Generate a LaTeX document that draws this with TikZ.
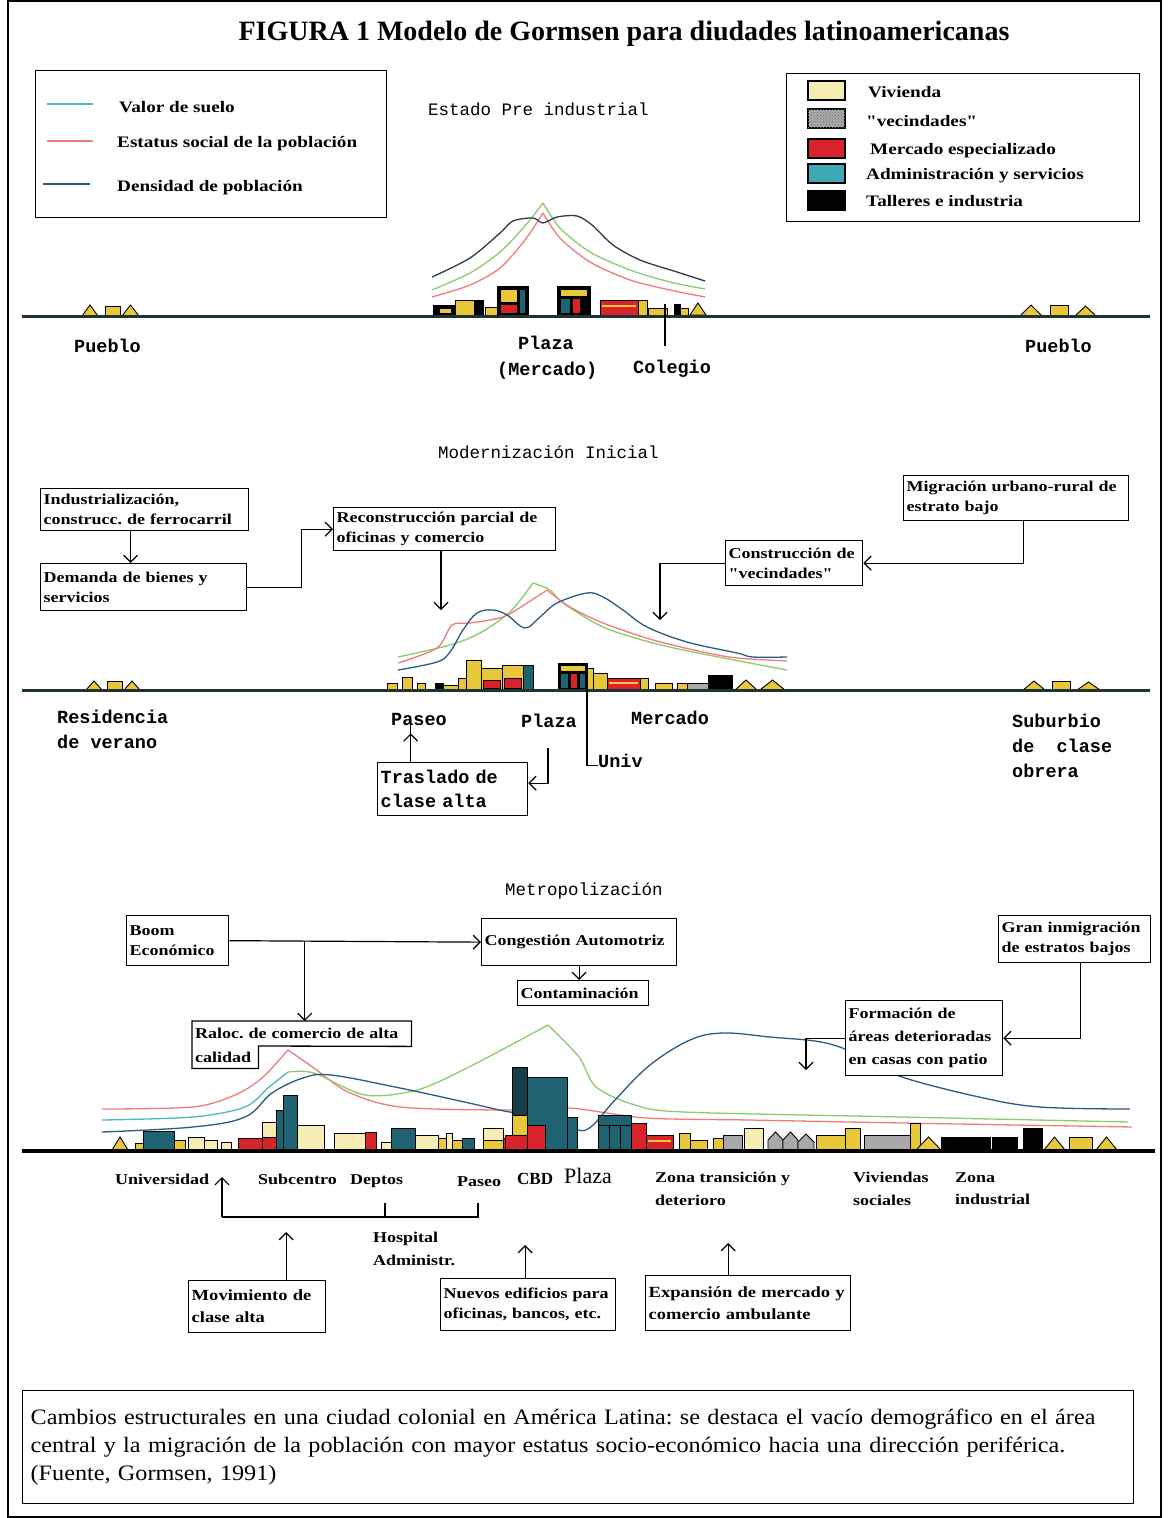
\documentclass[tikz,border=0pt]{standalone}
\usepackage{fontspec}
\setmainfont{Liberation Serif}
\newfontfamily\lmono{Liberation Mono}
\newfontfamily\bxf[FakeStretch=1.2]{Liberation Serif}
\newfontfamily\capf[FakeStretch=1.1]{Liberation Serif}
\usetikzlibrary{arrows.meta,patterns}
\frenchspacing
\definecolor{cY}{HTML}{E9C73A}
\definecolor{cCr}{HTML}{F6EDB5}
\definecolor{cR}{HTML}{D8232A}
\definecolor{cT}{HTML}{1F6373}
\definecolor{cTd}{HTML}{163F4A}
\definecolor{cTl}{HTML}{3FA9B5}
\definecolor{cGy}{HTML}{A9A9A9}
\definecolor{lG}{HTML}{8CCB6E}
\definecolor{lR}{HTML}{F07B7B}
\definecolor{lB}{HTML}{2F5A80}
\definecolor{lD}{HTML}{2E3A4A}
\definecolor{lC}{HTML}{4FB8B8}
\definecolor{gnd}{HTML}{1E3434}
\newcommand{\groundY}{315}
\newcommand{\Bk}[4]{\filldraw[bd,fill=#4] (#1,\groundY) rectangle (#2,#3);}
\newcommand{\Fl}[5]{\filldraw[bd,fill=#5] (#1,#2) rectangle (#3,#4);}
\newcommand{\Tri}[3]{\filldraw[bd,fill=cY] (#1,\groundY) -- ({(#1+#2)/2},#3) -- (#2,\groundY) -- cycle;}
\newcommand{\Hse}[3]{\filldraw[bd,fill=cGy] (#1,\groundY) -- (#1,#3+8) -- ({(#1+#2)/2},#3) -- (#2,#3+8) -- (#2,\groundY) -- cycle;}
\newcommand{\dq}{\symbol{34}}
\tikzset{
  bd/.style={draw=black, line width=0.9pt},
  tb/.style={draw, fill=white, line width=1.3pt, inner xsep=3pt, inner ysep=2pt, align=left, anchor=north west, font=\bxf\fontsize{15}{20}\selectfont\bfseries},
  arr/.style={-{Straight Barb[length=7pt,width=14pt]}, line width=1.2pt},
  ln/.style={line width=1.2pt},
  crv/.style={line width=1.3pt},
  mlab/.style={font=\lmono\fontsize{18.5}{25}\selectfont\bfseries, anchor=base west, inner sep=0pt},
  hlab/.style={font=\lmono\fontsize{17.5}{22}\selectfont, anchor=base west, inner sep=0pt},
  slab/.style={font=\bxf\fontsize{15}{22.5}\selectfont\bfseries, anchor=north west, align=left, inner sep=0pt},
  leg/.style={font=\bxf\fontsize{16}{18}\selectfont\bfseries, anchor=base west, inner sep=0pt},
}
\begin{document}
\begin{tikzpicture}[x=1pt,y=-1pt]
\useasboundingbox (0,0) rectangle (1169,1518);
\fill[white] (0,0) rectangle (1169,1518);
\draw[line width=1.5pt] (8,1) rectangle (1161,1517);

\node[font=\fontsize{28}{32}\selectfont\bfseries] (title) at (624,34) {FIGURA 1 Modelo de Gormsen para diudades latinoamericanas};

% ---------- left legend
\node[draw, line width=1.3pt, minimum width=351pt, minimum height=147pt, anchor=north west] (legL) at (35,70) {};
\draw[lC, line width=1.6pt] (47,104) -- (93,104);
\draw[lR, line width=1.4pt] (47,141) -- (93,141);
\draw[lB, line width=2pt] (43,184) -- (90,184);
\node[leg] (lv) at (119,112) {Valor de suelo};
\node[leg] (le) at (117,147) {Estatus social de la población};
\node[leg] (ld) at (117,191) {Densidad de población};

% ---------- right legend
\node[draw, line width=1.3pt, minimum width=353pt, minimum height=148pt, anchor=north west] (legR) at (786,73) {};
\filldraw[bd,line width=1.3pt,fill=cCr] (808,81) rectangle (845,100);
\filldraw[bd,line width=1.3pt,fill=cGy,postaction={pattern=crosshatch dots, pattern color=black!55}] (808,109) rectangle (845,128);
\filldraw[bd,line width=1.3pt,fill=cR] (808,139) rectangle (845,158);
\filldraw[bd,line width=1.3pt,fill=cTl] (808,164) rectangle (845,183);
\filldraw[bd,line width=1.3pt,fill=black] (808,191) rectangle (845,210);
\node[leg] (r1) at (868,97) {Vivienda};
\node[leg] (r2) at (866,126) {\dq vecindades\dq};
\node[leg] (r3) at (870,154) {Mercado especializado};
\node[leg] (r4) at (866,179) {Administración y servicios};
\node[leg] (r5) at (866,206) {Talleres e industria};

% ================= SECTION 1
\node[hlab] (h1) at (428,115) {Estado Pre industrial};
\draw[crv,lG] plot[smooth] coordinates {(432,290) (470,273) (500,252) (525,226) (543,203)};
\draw[crv,lG] plot[smooth] coordinates {(543,203) (560,228) (590,252) (630,270) (670,282) (705,289)};
\draw[crv,lR] plot[smooth] coordinates {(432,297) (470,285) (500,268) (525,240) (543,213)};
\draw[crv,lR] plot[smooth] coordinates {(543,213) (560,238) (590,262) (630,280) (670,290) (705,297)};
\draw[crv,lD] plot[smooth] coordinates {(432,277) (470,258) (500,233) (513,221) (533,218) (543,223) (557,217) (577,216) (592,225) (613,245) (640,260) (677,272) (705,281)};
\renewcommand{\groundY}{315}
\Bk{433}{455}{305}{black} \Fl{439}{308}{451}{313}{cY}
\Bk{455}{483}{300}{cY} \Fl{474}{300}{483}{315}{black}
\Bk{485}{497}{307}{cY}
\Bk{497}{528}{286}{black} \Fl{500}{289}{517}{302}{cY} \Fl{500}{304}{517}{313}{cR} \Fl{519}{289}{525}{313}{cT}
\Bk{557}{590}{286}{black} \Fl{560}{289}{587}{296}{cY} \Fl{560}{298}{570}{313}{cT} \Fl{572}{298}{580}{313}{cR}
\Bk{600}{638}{300}{cR} \draw[cY,line width=1.5pt] (602,306)--(636,306);
\Bk{638}{647}{300}{cY}
\Bk{648}{667}{308}{cY}
\Bk{674}{680}{304}{black}
\Bk{680}{688}{308}{cY}
\Tri{690}{706}{303}
\renewcommand{\groundY}{316}
\Tri{82}{98}{305} \Bk{105}{120}{306}{cY} \Tri{122}{139}{305}
\Tri{1020}{1042}{305} \Bk{1050}{1068}{305}{cY} \Tri{1075}{1096}{306}
\draw[gnd, line width=3pt] (22,316) -- (1150,316);
\coordinate (colA) at (665,304);
\coordinate (colB) at (665,346);
\draw[ln] (colA) -- (colB);
\node[mlab] (pu1) at (74,352) {Pueblo};
\node[mlab] (pu2) at (1025,352) {Pueblo};
\node[mlab] (pl1) at (518,349) {Plaza};
\node[mlab] (me1) at (497,375) {(Mercado)};
\node[mlab] (co1) at (633,373) {Colegio};

% ================= SECTION 2
\node[hlab] (h2) at (438,458) {Modernización Inicial};
\draw[crv,lG] plot[smooth] coordinates {(398,657) (450,645) (480,633) (510,612) (533,583)};
\draw[crv,lG] plot[smooth] coordinates {(533,583) (550,590) (563,603) (603,627) (653,643) (703,654) (787,670)};
\draw[crv,lR] plot[smooth, tension=0.5] coordinates {(398,663) (437,648) (452,625) (470,623) (503,617) (527,603) (547,590)};
\draw[crv,lR] plot[smooth] coordinates {(547,590) (570,607) (603,623) (653,640) (703,652) (737,658) (787,661)};
\draw[crv,lB] plot[smooth, tension=0.6] coordinates {(398,670) (437,662) (450,652) (463,630) (477,613) (493,610) (507,615) (525,628) (540,617) (557,603) (587,593) (603,597) (623,610) (647,627) (687,642) (737,653) (753,657) (787,657)};
\renewcommand{\groundY}{690}
\Bk{387}{397}{683}{cY}
\Bk{402}{412}{677}{cY}
\Bk{417}{425}{683}{cY}
\Bk{435}{443}{683}{black}
\Bk{443}{458}{685}{cY}
\Bk{458}{466}{678}{cY}
\Bk{466}{481}{660}{cY}
\Bk{481}{502}{668}{cY} \Fl{483}{680}{500}{688}{cR}
\Bk{502}{523}{665}{cY} \Fl{504}{678}{521}{688}{cR}
\Bk{523}{533}{665}{cT}
\Bk{558}{587}{663}{black} \Fl{560}{665}{585}{671}{cY} \Fl{560}{673}{568}{688}{cT} \Fl{570}{673}{577}{688}{cR} \Fl{579}{673}{585}{688}{cT}
\Bk{587}{593}{668}{cY}
\Bk{593}{607}{673}{cY}
\Bk{607}{640}{678}{cR} \draw[cY, line width=1.5pt] (609,683)--(638,683);
\Bk{640}{648}{678}{cY}
\Bk{655}{672}{683}{cY}
\Bk{677}{687}{683}{cY}
\Bk{687}{708}{683}{cGy}
\Bk{708}{732}{675}{black}
\Tri{735}{757}{680} \Tri{760}{785}{680}
\Tri{86}{102}{681} \Bk{107}{122}{681}{cY} \Tri{124}{140}{681}
\Tri{1023}{1045}{681} \Bk{1052}{1070}{681}{cY} \Tri{1077}{1100}{682}
\draw[gnd, line width=3pt] (22,690) -- (1150,690);
\node[tb, text width=202pt, minimum height=42pt] (ind) at (40,488) {Industrialización,\\construcc. de ferrocarril};
\node[tb, text width=200pt, minimum height=47pt] (dem) at (40,563) {Demanda de bienes y\\servicios};
\node[tb, text width=216pt, minimum height=43pt] (rec) at (333,507) {Reconstrucción parcial de\\oficinas y comercio};
\node[tb, text width=219pt, minimum height=45pt] (mig) at (903,475) {Migración urbano-rural de\\estrato bajo};
\node[tb, text width=131pt, minimum height=45pt] (con) at (725,540) {Construcción de\\\dq vecindades\dq};
\draw[arr] ([xshift=-14pt]ind.south) -- ([xshift=-14pt]ind.south |- dem.north);
\draw[arr] (dem.east) -- ++(54,0) |- (rec.west);
\coordinate (recT) at (441,610);
\draw[arr] (rec.south -| recT) -- (recT);
\draw[arr] ([xshift=7pt]mig.south) |- (con.east);
\coordinate (conT) at (660,620);
\draw[arr] (con.west) -| (conT);
\node[mlab] (res) at (57,723) {Residencia};
\node[mlab] (res2) at (57,748) {de verano};
\node[mlab] (pas) at (391,725) {Paseo};
\node[mlab] (pl2) at (521,727) {Plaza};
\node[mlab] (mer) at (631,724) {Mercado};
\node[mlab] (sub) at (1012,727) {Suburbio};
\node[mlab] (sub2) at (1012,752) {de\ \ clase};
\node[mlab] (sub3) at (1012,777) {obrera};
\node[mlab] (univ) at (598,767) {Univ};
\coordinate (univA) at (587,690);
\draw[ln] (univA) |- ([yshift=-5pt]univ.west);
\node[tb, font=\lmono\fontsize{18.5}{24}\selectfont\bfseries, text width=144pt, minimum height=53pt] (tras) at (377,762) {Traslado de\\clase alta};
\draw[arr] ([xshift=-42pt]tras.north) -- ([xshift=-42pt]tras.north |- pas.south) ++(0,8);
\coordinate (plzA) at (548,748);
\draw[arr] (plzA) |- ([yshift=6pt]tras.east);

% ================= SECTION 3
\node[hlab] (h3) at (505,895) {Metropolización};
\draw[crv,lR] plot[smooth] coordinates {(102,1109) (193,1107) (235,1095) (262,1078) (288,1050)};
\draw[crv,lR] plot[smooth] coordinates {(288,1050) (314,1068) (348,1092) (400,1107) (503,1110) (569,1108) (646,1118) (749,1120) (902,1123) (1132,1127)};
\draw[crv,lC] plot[smooth] coordinates {(102,1120) (193,1117) (245,1107) (269,1087) (288,1072)};
\draw[crv,lG] plot[smooth] coordinates {(288,1072) (314,1073) (365,1095) (417,1090) (469,1067) (548,1025)};
\draw[crv,lG] plot[smooth] coordinates {(548,1025) (579,1057) (596,1087) (635,1105) (684,1112) (902,1117) (1128,1122)};
\draw[crv,lB] plot[smooth, tension=0.6] coordinates {(102,1132) (193,1127) (245,1117) (272,1093) (303,1078) (331,1075) (400,1088) (469,1103) (510,1112) (560,1118) (578,1130) (592,1126) (615,1100) (650,1065) (690,1040) (723,1033) (770,1037) (826,1043) (870,1060) (902,1077) (979,1097) (1040,1107) (1130,1109)};
\renewcommand{\groundY}{1150}
\Tri{112}{128}{1137}
\Bk{135}{143}{1143}{cY}
\Bk{143}{174}{1131}{cT}
\Bk{174}{185}{1140}{cY}
\Bk{188}{204}{1137}{cCr}
\Bk{204}{217}{1140}{cCr}
\Bk{221}{231}{1142}{cCr}
\Bk{238}{262}{1138}{cR}
\Bk{262}{276}{1122}{cCr} \Fl{262}{1137}{276}{1150}{cR}
\Bk{276}{283}{1110}{cT}
\Bk{283}{297}{1095}{cT}
\Bk{297}{324}{1125}{cCr}
\Bk{334}{365}{1133}{cCr}
\Bk{365}{376}{1132}{cR}
\Bk{381}{391}{1142}{cCr}
\Bk{391}{415}{1128}{cT}
\Bk{415}{438}{1135}{cCr}
\Bk{438}{446}{1138}{cY}
\Bk{446}{452}{1133}{cCr}
\Bk{452}{462}{1140}{cY}
\Bk{462}{474}{1138}{cT}
\Bk{483}{503}{1128}{cCr} \Fl{483}{1140}{503}{1150}{cY}
\Bk{503}{512}{1138}{cR}
\Bk{512}{527}{1067}{cTd}
\Fl{512}{1115}{527}{1135}{cY}
\Fl{505}{1135}{527}{1150}{cR}
\Bk{527}{567}{1077}{cT}
\Fl{527}{1125}{545}{1150}{cR}
\Bk{567}{577}{1117}{cT}
\Bk{598}{631}{1115}{cT} \draw[bd] (609,1125)--(609,1150) (620,1125)--(620,1150) (598,1125)--(631,1125);
\Bk{631}{646}{1123}{cR}
\Bk{646}{673}{1135}{cR} \draw[cY, line width=1.5pt] (648,1141)--(671,1141);
\Bk{679}{690}{1133}{cY}
\Bk{690}{707}{1140}{cY}
\Bk{713}{723}{1138}{cY}
\Bk{723}{742}{1135}{cGy}
\Bk{744}{763}{1128}{cCr}
\Hse{768}{783}{1132} \Hse{783}{798}{1132} \Hse{798}{814}{1134}
\Bk{816}{845}{1135}{cY}
\Bk{845}{860}{1128}{cY}
\Bk{864}{910}{1135}{cGy}
\Bk{910}{920}{1123}{cY}
\Tri{916}{941}{1137}
\Bk{941}{990}{1137}{black}
\Bk{992}{1017}{1137}{black}
\Bk{1023}{1042}{1128}{black}
\Tri{1044}{1065}{1137}
\Bk{1069}{1092}{1137}{cY}
\Tri{1096}{1117}{1137}
\draw[black, line width=4pt] (22,1151) -- (1155,1151);
\node[tb, text width=96pt, minimum height=50pt] (boom) at (126,915) {Boom\\Económico};
\node[tb, text width=189pt, minimum height=47pt] (cong) at (481,918) {Congestión Automotriz};
\node[tb, text width=125pt, minimum height=25pt, inner ysep=1pt] (cont) at (517,980) {Contaminación};
\node[anchor=north west, inner xsep=3pt, inner ysep=1pt, minimum width=219pt, minimum height=25pt, align=left, text width=213pt, font=\bxf\fontsize{15}{20}\selectfont\bfseries] (raloc) at (192,1021) {Raloc. de comercio de alta};
\node[anchor=north west, inner xsep=3pt, inner ysep=1pt, minimum width=66pt, minimum height=22pt, align=left, text width=60pt, font=\bxf\fontsize{15}{20}\selectfont\bfseries] (calid) at (192,1046) {calidad};
\draw[ln, line width=1.3pt] (raloc.north west) -- (raloc.north east) -- (raloc.south east) -- (calid.north east) -- (calid.south east) -- (calid.south west) -- cycle;
\node[tb, text width=146pt, minimum height=47pt] (gran) at (998,915) {Gran inmigración\\de estratos bajos};
\node[tb, text width=151pt, minimum height=75pt, font=\bxf\fontsize{15}{23}\selectfont\bfseries] (form) at (845,1000) {Formación de\\áreas deterioradas\\en casas con patio};
\draw[arr] (boom.east) -- (cong.west);
\draw[arr] ([xshift=3pt]raloc.north |- boom.east) -- ([xshift=3pt]raloc.north);
\draw[arr] (cong.south) -- (cong.south |- cont.north);
\draw[arr] ([xshift=6pt]gran.south) |- (form.east);
\coordinate (formT) at (806,1070);
\draw[arr] (form.west) -| (formT);
\node[slab] (uni) at (115,1174) {Universidad};
\node[slab] (subc) at (258,1174) {Subcentro};
\node[slab] (dep) at (350,1174) {Deptos};
\node[slab] (pas3) at (457,1176) {Paseo};
\node[slab, font=\fontsize{17}{22}\selectfont\bfseries] (cbd) at (517,1173) {CBD};
\node[slab, font=\fontsize{22}{24}\selectfont] (plz3) at (564,1168) {Plaza};
\node[slab] (zt) at (655,1172) {Zona transición y\\deterioro};
\node[slab] (viv) at (853,1172) {Viviendas\\sociales};
\node[slab] (zi) at (955,1172) {Zona\\industrial};
\node[slab] (hos) at (373,1232) {Hospital\\Administr.};
\coordinate (bL) at (222,1217);
\coordinate (bM) at (385,1217);
\coordinate (bR) at (478,1217);
\draw[arr] (bL) -- ++(0,-40);
\draw[ln] (bL) -- (bR) -- ++(0,-14);
\draw[ln] (bM) -- ++(0,-14);
\node[tb, text width=131pt, minimum height=52pt, font=\bxf\fontsize{15.5}{22}\selectfont\bfseries] (mov) at (188,1280) {Movimiento de\\clase alta};
\node[tb, text width=169pt, minimum height=52pt] (nuev) at (440,1278) {Nuevos edificios para\\oficinas, bancos, etc.};
\node[tb, text width=199pt, minimum height=55pt, font=\bxf\fontsize{15.5}{22}\selectfont\bfseries] (expa) at (645,1275) {Expansión de mercado y\\comercio ambulante};
\draw[arr] ([xshift=29pt]mov.north) -- ++(0,-48);
\draw[arr] ([xshift=-3pt]nuev.north) -- ++(0,-33);
\draw[arr] ([xshift=-20pt]expa.north) -- ++(0,-32);

\node[draw, line width=1.3pt, anchor=north west, minimum width=1111pt, minimum height=113pt, text width=1095pt, inner xsep=8pt, align=left, font=\capf\fontsize{22}{28}\selectfont] (cap) at (22,1390) {Cambios estructurales en una ciudad colonial en América Latina: se destaca el vacío demográfico en el área\\central y la migración de la población con mayor estatus socio-económico hacia una dirección periférica.\\(Fuente, Gormsen, 1991)};
\end{tikzpicture}
\end{document}
